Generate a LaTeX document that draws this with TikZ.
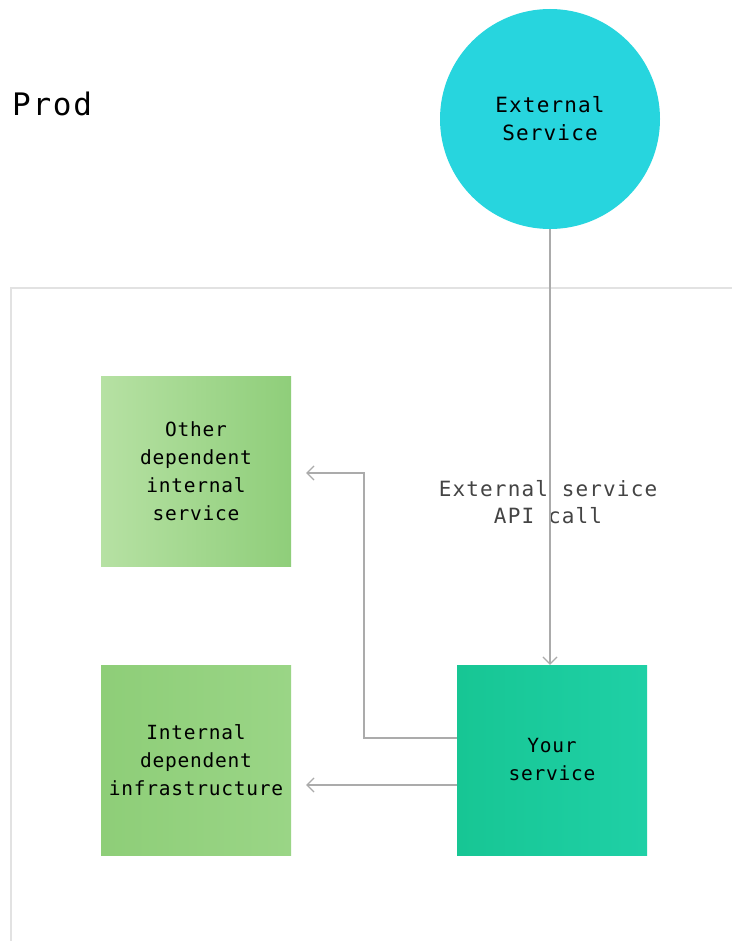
\documentclass[tikz,border=0pt]{standalone}
\usepackage{fontspec}
\setmonofont{DejaVu Sans Mono}
\newfontfamily\spacedmono[LetterSpace=5.5]{DejaVu Sans Mono}
\newfontfamily\boxmono[LetterSpace=4]{DejaVu Sans Mono}
\usetikzlibrary{arrows.meta}
\definecolor{cyanfill}{HTML}{27D5DE}
\definecolor{lgA}{HTML}{B6E1A3}
\definecolor{lgB}{HTML}{8FCE7A}
\definecolor{mgA}{HTML}{8ECE78}
\definecolor{mgB}{HTML}{9AD586}
\definecolor{tgA}{HTML}{17C694}
\definecolor{tgB}{HTML}{1FD0A6}
\definecolor{connc}{HTML}{ABABAB}
\definecolor{framec}{HTML}{E2E2E2}
\definecolor{labelc}{HTML}{444444}
\tikzset{
  svcbox/.style={minimum width=190pt, minimum height=190pt, text width=186pt, inner sep=0pt, align=center,
    font=\boxmono\fontsize{19.5}{28}\selectfont, text=black},
  conn/.style={draw=connc, line width=1.2pt, -{Straight Barb[length=7pt,width=14pt,line width=1.2pt]}},
}
\begin{document}
\begin{tikzpicture}[x=1pt,y=-1pt]
\useasboundingbox (0,0) rectangle (731,941);
\fill[white] (0,0) rectangle (731,941);
% region frame
\draw[framec, line width=2pt] (11,945) -- (11,288) -- (735,288);
% title
\node[anchor=west, inner sep=0pt, font=\spacedmono\fontsize{31}{34}\selectfont, text=black] (prod) at (12,104) {Prod};
% external service
\node[circle, minimum size=220pt, inner sep=0pt, fill=cyanfill, align=center,
  font=\spacedmono\fontsize{21}{28}\selectfont, text=black] (ext) at (550,119) {External\\Service};
% boxes
\node[svcbox, left color=lgA, right color=lgB] (other) at (196,471) {Other\\dependent\\internal\\service};
\node[svcbox, left color=mgA, right color=mgB] (infra) at (196,760) {Internal\\dependent\\infrastructure};
\node[svcbox, left color=tgA, right color=tgB] (your) at (552,760) {Your\\service};
% label
\node[align=center, font=\spacedmono\fontsize{21}{27}\selectfont, text=labelc] (lbl) at (548,502) {External service\\API call};
% connectors
\draw[conn] (ext.south -| 550,0) -- (550,0 |- your.north);
\coordinate (bend) at (364,738);
\draw[conn, shorten >=15pt] ([yshift=22pt]your.west) -- (bend) |- ([yshift=-2pt]other.east);
\draw[conn, shorten >=15pt] ([yshift=-25pt]your.west) -- ([yshift=-25pt]infra.east);
\end{tikzpicture}
\end{document}
